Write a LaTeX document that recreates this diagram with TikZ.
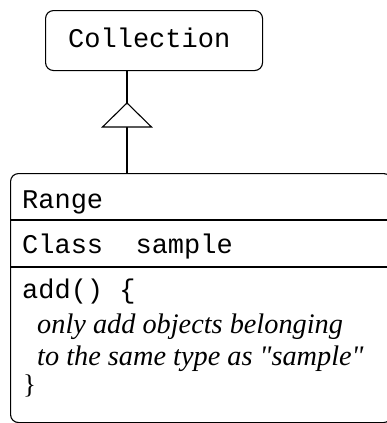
\documentclass[tikz,border=0pt]{standalone}
\usepackage{fontspec}
\setmainfont{Liberation Serif}
\setmonofont{Liberation Mono}
\begin{document}
\begin{tikzpicture}[x=1pt,y=1pt,
  box/.style={draw, line width=1.1pt, rounded corners=8pt},
  mono/.style={anchor=base west, inner sep=0pt, font=\fontsize{27}{30}\selectfont\ttfamily},
  ital/.style={anchor=base west, inner sep=0pt, font=\fontsize{28.3}{30}\selectfont\itshape},
  rule/.style={line width=1.1pt}]
\useasboundingbox (0,0) rectangle (387,-423);
% Collection box
\node[box, anchor=north west, minimum width=217pt, minimum height=60pt, inner sep=0pt] (coll) at (45,-10) {};
\node[mono] (colltxt) at (68,-47) {Collection};
% Range box
\node[box, anchor=north west, minimum width=381pt, minimum height=249pt, inner sep=0pt] (range) at (10,-173) {};
\coordinate (top) at (127,-70);
\coordinate (apex) at (127,-103);
\coordinate (bot) at (127,-173);
\draw[rule] (top) -- (bot);
\draw[rule, fill=white] (apex) -- ++(-24.5,-24) -- ++(49,0) -- cycle;
% separators
\coordinate (s1l) at (10,-220); \coordinate (s1r) at (391,-220);
\coordinate (s2l) at (10,-267); \coordinate (s2r) at (391,-267);
\draw[rule] (s1l) -- (s1r);
\draw[rule] (s2l) -- (s2r);
% texts
\node[mono] (rname) at (22,-208) {Range};
\node[mono] (attr) at (22,-253) {Class\ \ sample};
\node[mono] (op) at (22,-298) {add()\ \{};
\node[ital] (c1) at (37,-333) {only add objects belonging};
\node[ital] (c2) at (37,-365) {to the same type as \textquotedbl sample\textquotedbl};
\node[anchor=base west, inner sep=0pt, font=\fontsize{27}{30}\selectfont] (close) at (23,-393) {\}};
\end{tikzpicture}
\end{document}
